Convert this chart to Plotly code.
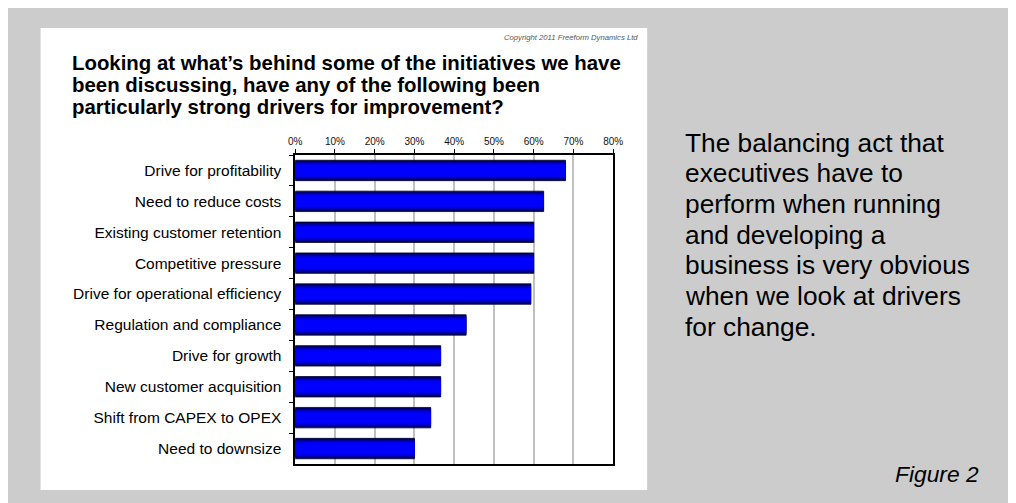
import plotly.graph_objects as go

categories = [
    "Drive for profitability",
    "Need to reduce costs",
    "Existing customer retention",
    "Competitive pressure",
    "Drive for operational efficiency",
    "Regulation and compliance",
    "Drive for growth",
    "New customer acquisition",
    "Shift from CAPEX to OPEX",
    "Need to downsize",
]
values = [0.68, 0.625, 0.60, 0.60, 0.593, 0.43, 0.366, 0.366, 0.341, 0.30]
x_ticks = [0, 0.1, 0.2, 0.3, 0.4, 0.5, 0.6, 0.7, 0.8]
x_tick_labels = ["0%", "10%", "20%", "30%", "40%", "50%", "60%", "70%", "80%"]

title_lines = [
    "Looking at what\u2019s behind some of the initiatives we have",
    "been discussing, have any of the following been",
    "particularly strong drivers for improvement?",
]
side_lines = [
    "The balancing act that",
    "executives have to",
    "perform when running",
    "and developing a",
    "business is very obvious",
    "when we look at drivers",
    "for change.",
]

# page has the default 8px body margin; figure fills the rest of the 1016x503 window
OFF = 8
W, H = 1016 - OFF, 503 - OFF


def px(x):
    return (x - OFF) / W


def py(y):
    return 1 - (y - OFF) / H


fig = go.Figure()

# gradient bars: layered overlay, outer dark -> inner bright
layers = [
    (0.66, "#000050"),
    (0.60, "#000078"),
    (0.54, "#0000a0"),
    (0.48, "#0000c8"),
    (0.42, "#0000e6"),
    (0.34, "#0000ff"),
]
for i, (w, c) in enumerate(layers):
    fig.add_trace(go.Bar(
        x=values, y=categories, orientation="h", width=w,
        marker=dict(color=c, line=dict(width=0.8 if i == 0 else 0, color="#000030")),
        hoverinfo="skip", showlegend=False,
    ))

fig.update_layout(
    width=W, height=H,
    autosize=False,
    margin=dict(l=0, r=0, t=0, b=0),
    paper_bgcolor="#cccccc",
    plot_bgcolor="white",
    barmode="overlay",
    font=dict(family="Liberation Sans, Arial, sans-serif", color="black"),
    xaxis=dict(
        domain=[px(293), px(616.5)],
        range=[0, 0.8], side="top",
        tickvals=x_ticks, ticktext=x_tick_labels,
        tickfont=dict(size=10, color="#111"),
        showgrid=True, gridcolor="#c0c0c0", gridwidth=1.5,
        showline=True, linecolor="black", linewidth=1.5, mirror=True,
        ticks="outside", ticklen=4, tickcolor="black", tickwidth=1,
        zeroline=False, fixedrange=True,
    ),
    yaxis=dict(
        domain=[py(464), py(155)],
        autorange="reversed",
        categoryorder="array", categoryarray=categories,
        tickfont=dict(size=15.5, color="black"),
        ticklabelstandoff=9,
        showline=True, linecolor="black", linewidth=1.5, mirror=True,
        ticks="outside", ticklen=4, tickcolor="black", tickson="boundaries",
        showgrid=False, zeroline=False, fixedrange=True,
    ),
    shapes=[
        dict(type="rect", xref="paper", yref="paper", x0=px(34), x1=px(651), y0=py(490), y1=py(28),
             fillcolor="white", line=dict(width=0), layer="below"),
    ],
)

ann = []
title_y = [63, 85, 107]
for t, yy in zip(title_lines, title_y):
    ann.append(dict(text="<b>%s</b>" % t, xref="paper", yref="paper", x=px(64), y=py(yy),
                    xanchor="left", yanchor="middle", showarrow=False,
                    font=dict(size=20.4, color="black")))
ann.append(dict(text="<i>Copyright 2011 Freeform Dynamics Ltd</i>", xref="paper", yref="paper",
                x=px(644), y=py(37), xanchor="right", yanchor="middle", showarrow=False,
                font=dict(size=7.7, color="#555")))
for i, t in enumerate(side_lines):
    ann.append(dict(text=t, xref="paper", yref="paper", x=px(687), y=py(142.5 + i * 30.7),
                    xanchor="left", yanchor="middle", showarrow=False,
                    font=dict(size=26.3, color="black")))
ann.append(dict(text="<i>Figure 2</i>", xref="paper", yref="paper", x=px(991), y=py(474),
                xanchor="right", yanchor="middle", showarrow=False,
                font=dict(size=22.8, color="black")))
fig.update_layout(annotations=ann)

fig.write_html("out.html", config={"displayModeBar": False, "responsive": False})
